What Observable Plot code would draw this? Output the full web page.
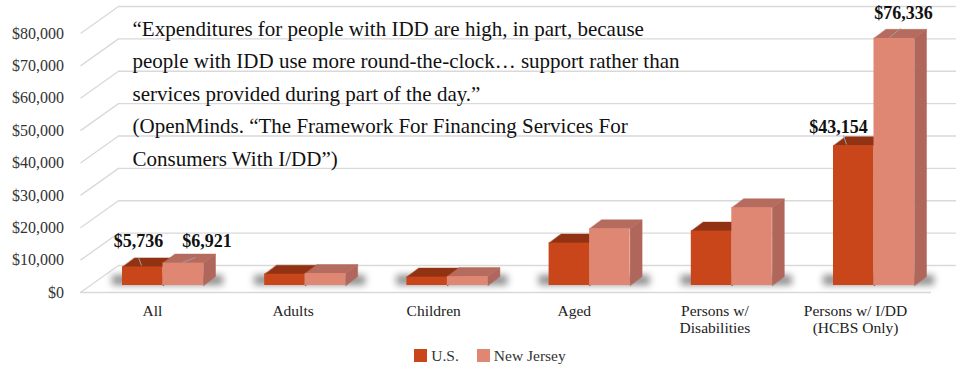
<!DOCTYPE html>
<html>
<head>
<meta charset="utf-8">
<script src="https://cdn.jsdelivr.net/npm/d3@7"></script>
<script src="https://cdn.jsdelivr.net/npm/@observablehq/plot@0.6"></script>
<style>
  html, body { margin: 0; padding: 0; background: #fff; }
  #chart { width: 956px; height: 340px; }
  #legend { width: 956px; height: 31px; display: flex; justify-content: center; align-items: center;
            font-family: "Liberation Serif", "Times New Roman", serif; font-size: 15.5px; color: #333; padding-left: 24px; box-sizing: border-box; }
  #legend .item { display: flex; align-items: center; margin: 0 9px; }
  #legend .sw { width: 13px; height: 13px; margin-right: 4px; }
</style>
</head>
<body>
<div id="chart"></div>
<div id="legend"></div>
<script>
// ---------------- data ----------------
const categories = ["All", "Adults", "Children", "Aged", "Persons w/\nDisabilities", "Persons w/ I/DD\n(HCBS Only)"];
const series = ["U.S.", "New Jersey"];
const usValues = [5736, 3500, 2600, 13100, 16800, 43154];
const njValues = [6921, 3700, 2750, 17500, 24000, 76336];
const yTicks = [0, 10000, 20000, 30000, 40000, 50000, 60000, 70000, 80000];
const labelledCategories = ["All", "Persons w/ I/DD\n(HCBS Only)"];
const quoteLines = [
  "\u201CExpenditures for people with IDD are high, in part, because",
  "people with IDD use more round-the-clock\u2026 support rather than",
  "services provided during part of the day.\u201D",
  "(OpenMinds. \u201CThe Framework For Financing Services For",
  "Consumers With I/DD\u201D)"
];

// ---------------- styling / layout ----------------
const colors = {
  "U.S.": {front: "#C9461A", top: "#913313", side: "#8A3414"},
  "New Jersey": {front: "#E08773", top: "#B56B5D", side: "#B0665A"}
};
const W = 956, H = 340, MT = 33, MB = 48;
const X0 = 91.4, UNIT = 142.2;            // px of x=-0.5, px per category step
const VPP = 80000 / 259;                 // value per pixel
const ux = px => px / UNIT;
const uv = px => px * VPP;
const xpx = px => -0.5 + (px - X0) / UNIT;
const BW = ux(40.5);
const FRONT_DY = -7;                     // bars sit mid-depth
const DEPTH_X = 12, DEPTH_Y = 9;         // bar extrusion
const WALL_X = 38, WALL_Y = 27;          // chart wall depth
const gridColor = "#D9D9D9";
const serif = "Liberation Serif, Times New Roman, serif";

// label offsets (px) relative to bar centre / front-top: [labelDx, labelDy, leaderFrom, leaderTo]
const labelLayout = {
  "All|U.S.": [-4.25, -25.4, [-4.25, -9.4], [-1.25, -1.4]],
  "All|New Jersey": [23.75, -21.6, [-0.75, -0.6], [12.25, -5.6]],
  "Persons w/ I/DD\n(HCBS Only)|U.S.": [-15.25, -18.3, [-10.25, -10.3], [-7.25, -1.3]],
  "Persons w/ I/DD\n(HCBS Only)|New Jersey": [9.25, -24.9, [-4.75, -0.9], [6.25, -9.9]]
};

// ---------------- derived tables ----------------
const bars = categories.flatMap((c, i) => [
  {cat: c, i, s: "U.S.", v: usValues[i], x1: i - BW, x2: i},
  {cat: c, i, s: "New Jersey", v: njValues[i], x1: i, x2: i + BW}
]);
bars.forEach((b, k) => b.id = k);

function topFace(b) {
  const dx = ux(DEPTH_X), dv = uv(DEPTH_Y);
  return [[b.x1, b.v], [b.x2, b.v], [b.x2 + dx, b.v + dv], [b.x1 + dx, b.v + dv]].map(([x, y]) => ({id: b.id, x, y}));
}
function sideFace(b) {
  const dx = ux(DEPTH_X), dv = uv(DEPTH_Y);
  return [[b.x2, 0], [b.x2, b.v], [b.x2 + dx, b.v + dv], [b.x2 + dx, dv]].map(([x, y]) => ({id: b.id, x, y}));
}

const labels = bars.filter(b => labelledCategories.includes(b.cat)).map(b => {
  const [tx, ty, f, t] = labelLayout[b.cat + "|" + b.s];
  const cx = (b.x1 + b.x2) / 2;
  return {
    text: d3.format("$,")(b.v),
    x: cx + ux(tx), y: b.v - uv(ty),
    lx1: cx + ux(f[0]), ly1: b.v - uv(f[1]),
    lx2: cx + ux(t[0]), ly2: b.v - uv(t[1])
  };
});

const catLabels = categories.map((c, i) => ({lines: c.split("\n"), x: i - ux(10.5 + 1.6 * i)}));

const seriesMarks = series.flatMap(s => {
  const bs = bars.filter(b => b.s === s);
  const col = colors[s];
  return [
    Plot.line(bs.flatMap(sideFace), {x: "x", y: "y", z: "id", fill: col.side, stroke: col.side, strokeWidth: 0.5, curve: "linear-closed", dy: FRONT_DY}),
    Plot.line(bs.flatMap(topFace), {x: "x", y: "y", z: "id", fill: col.top, stroke: col.top, strokeWidth: 0.5, curve: "linear-closed", dy: FRONT_DY}),
    Plot.rect(bs, {x1: "x1", x2: "x2", y1: () => 0, y2: "v", fill: col.front, dy: FRONT_DY})
  ];
});

const chart = Plot.plot({
  width: W, height: H,
  marginLeft: X0, marginRight: W - (X0 + 6 * UNIT), marginTop: MT, marginBottom: MB,
  style: {fontFamily: serif, fontSize: "16px", color: "#333", background: "#fff"},
  x: {domain: [-0.5, 5.5], axis: null},
  y: {domain: [0, 80000], ticks: yTicks, tickFormat: d3.format("$,"), tickSize: 0, tickPadding: 28, label: null},
  marks: [
    // back wall + left wall gridlines
    Plot.ruleY(yTicks, {y: d => d, x1: () => xpx(118), x2: () => xpx(956), dy: -WALL_Y, stroke: gridColor, strokeWidth: 1.3}),
    Plot.link(yTicks, {x1: () => xpx(80), y1: d => d, x2: () => xpx(80 + WALL_X), y2: d => d + uv(WALL_Y), stroke: gridColor, strokeWidth: 1.3}),
    Plot.ruleY([0], {y: d => d, x1: () => xpx(80), x2: () => xpx(931), stroke: gridColor, strokeWidth: 1.5}),
    // shadows
    Plot.rect(categories.map((c, i) => i), {x1: i => i - BW - ux(10), x2: i => i + BW + ux(20), y1: () => uv(7), y2: () => uv(17), fill: "#333", fillOpacity: 0.55, ariaDescription: "shadow"}),
    // bars
    ...seriesMarks,
    // data labels
    Plot.link(labels, {x1: "lx1", y1: "ly1", x2: "lx2", y2: "ly2", stroke: "#A0A0A0", strokeWidth: 1, dy: FRONT_DY}),
    Plot.text(labels, {x: "x", y: "y", text: "text", dy: FRONT_DY, fontWeight: "bold", fontSize: 18, fill: "#111", lineAnchor: "middle"}),
    // quote
    ...quoteLines.map((t, k) => Plot.text([t], {text: d => d, frameAnchor: "top-left", textAnchor: "start", lineAnchor: "top", dx: 132 - X0, dy: -12.5 + k * 32.4, fontSize: 21, fill: "#111"})),
    // category labels
    Plot.text(catLabels, {x: "x", text: d => d.lines[0], frameAnchor: "bottom", lineAnchor: "top", dy: 12, fontSize: 15.5, fill: "#222"}),
    Plot.text(catLabels.filter(d => d.lines.length > 1), {x: "x", text: d => d.lines[1], frameAnchor: "bottom", lineAnchor: "top", dy: 29, fontSize: 15.5, fill: "#222"})
  ]
});

chart.querySelectorAll('[aria-description="shadow"]').forEach(g => g.style.filter = "blur(3.5px)");
document.getElementById("chart").appendChild(chart);

const legend = document.getElementById("legend");
series.forEach(s => {
  const item = document.createElement("div");
  item.className = "item";
  item.innerHTML = `<span class="sw" style="background:${colors[s].front}"></span><span>${s}</span>`;
  legend.appendChild(item);
});
</script>
</body>
</html>
